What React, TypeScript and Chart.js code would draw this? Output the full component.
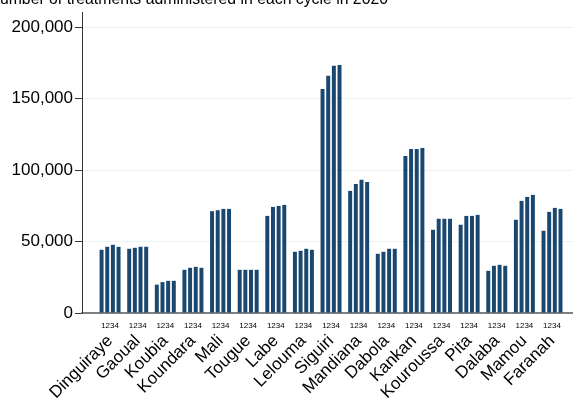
import React, { useEffect, useRef } from "react";
import { Chart, registerables } from "chart.js";

Chart.register(...registerables);

const districts = [
  "Dinguiraye", "Gaoual", "Koubia", "Koundara", "Mali", "Tougue", "Labe", "Lelouma",
  "Siguiri", "Mandiana", "Dabola", "Kankan", "Kouroussa", "Pita", "Dalaba", "Mamou", "Faranah",
];
const cycleLabels = ["1", "2", "3", "4"];
const cycle1 = [44200, 44900, 19800, 30200, 71200, 30200, 67900, 42800, 156600, 85400, 41400, 109800, 58200, 61700, 29500, 65200, 57500];
const cycle2 = [46300, 45600, 21600, 31600, 71900, 30200, 74200, 43500, 165900, 90300, 42800, 114700, 65900, 67900, 33000, 78400, 70700];
const cycle3 = [47700, 46300, 22500, 32300, 72800, 30200, 74900, 44900, 172900, 93100, 44900, 114700, 65900, 67900, 33700, 81200, 73500];
const cycle4 = [46300, 46300, 22500, 31600, 72800, 30200, 75600, 44200, 173400, 91700, 44900, 115400, 65900, 68600, 33000, 82600, 72800];
const yTicks = [0, 50000, 100000, 150000, 200000];
const titleText = "Number of treatments administered in each cycle in 2020";

const FONT = "'Liberation Sans', Arial, Helvetica, sans-serif";
const BAR = "#1a476f";

const titlePlugin = {
  id: "cutTitle",
  afterDraw(chart: any) {
    const ctx = chart.ctx;
    ctx.save();
    ctx.font = `15.8px ${FONT}`;
    ctx.fillStyle = "#000";
    ctx.textAlign = "left";
    ctx.textBaseline = "alphabetic";
    ctx.fillText(titleText, -11.5, 4);
    ctx.restore();
  },
};

export default function App() {
  const ref = useRef<HTMLCanvasElement | null>(null);

  useEffect(() => {
    if (!ref.current) return;
    const series = [cycle1, cycle2, cycle3, cycle4];
    const chart = new Chart(ref.current, {
      type: "bar",
      data: {
        datasets: series.map((s, k) => ({
          label: "Cycle " + cycleLabels[k],
          data: s.map((v, i) => ({ x: i, y: v })),
          backgroundColor: BAR,
          borderWidth: 0,
          categoryPercentage: 0.82,
          barPercentage: 0.7,
          xAxisID: "x",
          yAxisID: "y",
        })),
      },
      options: {
        responsive: false,
        animation: false,
        layout: { padding: { left: 0, right: 0, top: 12, bottom: 0 } },
        plugins: {
          legend: { display: false },
          tooltip: { enabled: false },
          title: { display: false },
        },
        scales: {
          x: {
            type: "linear",
            position: "bottom",
            offset: false,
            min: -1.016,
            max: 16.76,
            afterBuildTicks: (s: any) => {
              s.ticks = districts.map((_, i) => ({ value: i }));
            },
            afterFit: (s: any) => {
              s.height = 16;
              s.paddingLeft = 0;
              s.paddingRight = 0;
            },
            grid: { display: false, drawTicks: false, offset: false },
            border: { display: true, color: "#808080", width: 2 },
            ticks: {
              autoSkip: false,
              maxRotation: 0,
              minRotation: 0,
              padding: 8,
              color: "#000",
              font: { family: FONT, size: 8 },
              callback: () => cycleLabels.join(""),
            },
          },
          x2: {
            type: "linear",
            position: "bottom",
            offset: false,
            min: -1.016,
            max: 16.76,
            afterBuildTicks: (s: any) => {
              s.ticks = districts.map((_, i) => ({ value: i }));
            },
            afterFit: (s: any) => {
              s.height = 71;
              s.paddingLeft = 0;
              s.paddingRight = 0;
            },
            grid: { display: false, drawTicks: false, offset: false },
            border: { display: false },
            ticks: {
              autoSkip: false,
              maxRotation: 45,
              minRotation: 45,
              padding: 2,
              color: "#000",
              font: { family: FONT, size: 17 },
              callback: (v: any) => districts[Math.round(Number(v))] ?? "",
            },
          },
          y: {
            type: "linear",
            min: 0,
            max: 210500,
            afterBuildTicks: (s: any) => {
              s.ticks = yTicks.map((v) => ({ value: v }));
            },
            afterFit: (s: any) => {
              s.width = 82;
              s.paddingTop = 0;
              s.paddingBottom = 0;
            },
            grid: {
              color: (c: any) => (c.tick && c.tick.value === 0 ? "rgba(0,0,0,0)" : "#eaf2f3"),
              lineWidth: 1,
              drawTicks: true,
              tickLength: 7,
              tickColor: "#333",
            },
            border: { display: true, color: "#333", width: 1 },
            ticks: {
              padding: 2,
              color: "#000",
              font: { family: FONT, size: 17 },
              callback: (v: any) => Number(v).toLocaleString("en-US"),
            },
          },
        },
      },
      plugins: [titlePlugin],
    } as any);
    return () => chart.destroy();
  }, []);

  return (
    <div style={{ position: "absolute", left: 0, top: 0, width: 573, height: 400, background: "#fff" }}>
      <canvas ref={ref} width={573} height={400} style={{ display: "block" }} />
    </div>
  );
}
